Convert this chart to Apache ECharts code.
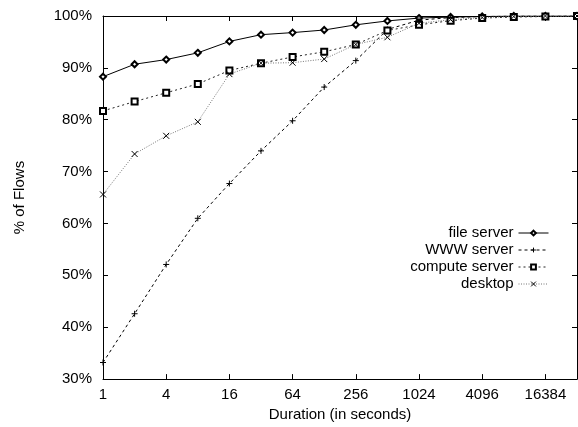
<!DOCTYPE html>
<html>
<head>
<meta charset="utf-8">
<script src="https://cdn.jsdelivr.net/npm/echarts@6/dist/echarts.min.js"></script>
<style>html,body{margin:0;padding:0;background:#fff}#c{width:578px;height:427px}</style>
</head>
<body>
<div id="c"></div>
<script>
var durations = ['1','2','4','8','16','32','64','128','256','512','1024','2048','4096','8192','16384','32768'];
var fileServer    = [88.3, 90.7, 91.6, 92.9, 95.1, 96.4, 96.8, 97.3, 98.3, 99.05, 99.6, 99.8, 99.9, 100, 100, 100];
var wwwServer     = [33.2, 42.6, 52.1, 61.0, 67.7, 74.0, 79.8, 86.3, 91.4, 97.4, 99.2, 99.7, 99.9, 100, 100, 100];
var computeServer = [81.7, 83.5, 85.2, 86.9, 89.5, 90.9, 92.1, 93.1, 94.5, 97.2, 98.3, 99.1, 99.6, 99.8, 99.9, 100];
var desktop       = [65.6, 73.4, 76.9, 79.6, 88.8, 90.9, 91.0, 91.7, 94.5, 95.9, 98.6, 99.3, 99.7, 99.9, 100, 100];
var seriesNames = ['file server', 'WWW server', 'compute server', 'desktop'];

var FONT = '"Liberation Sans", Arial, Helvetica, sans-serif';
var chart = echarts.init(document.getElementById('c'), null, {renderer: 'canvas'});
var plusPath = 'path://M0,5L10,5M5,0L5,10';
var crossPath = 'path://M0,0L10,10M10,0L0,10';

function mk(name, data, color, lineType, symbol, size, symStyle) {
  return {
    name: name, type: 'line', data: data,
    xAxisIndex: 0, yAxisIndex: 0,
    symbol: symbol, symbolSize: size,
    showSymbol: true,
    lineStyle: {color: color, width: 1, type: lineType},
    itemStyle: symStyle,
    emphasis: {disabled: true},
    animation: false
  };
}

var option = {
  animation: false,
  grid: {left: 103, right: 1, top: 16, bottom: 41, containLabel: false},
  legend: {
    orient: 'vertical', right: 24, top: 220, align: 'right',
    itemWidth: 30, itemHeight: 6, itemGap: 1,
    lineStyle: {width: 1},
    itemStyle: {borderWidth: 1},
    textStyle: {fontFamily: FONT, fontSize: 15, color: '#000', lineHeight: 16},
    data: seriesNames
  },
  xAxis: [{
    type: 'category', data: durations, boundaryGap: false, position: 'bottom',
    name: 'Duration (in seconds)', nameLocation: 'middle', nameGap: 24,
    nameTextStyle: {fontFamily: FONT, fontSize: 15, color: '#000'},
    axisLine: {lineStyle: {color: '#000', width: 1}},
    axisTick: {inside: true, length: 5, interval: 1, lineStyle: {color: '#000'}},
    axisLabel: {interval: 1, fontFamily: FONT, fontSize: 15, color: '#000', margin: 8},
    splitLine: {show: false}
  }, {
    type: 'category', data: durations, boundaryGap: false, position: 'top',
    axisLine: {lineStyle: {color: '#000', width: 1}},
    axisTick: {inside: true, length: 5, interval: 1, lineStyle: {color: '#000'}},
    axisLabel: {show: false},
    splitLine: {show: false}
  }],
  yAxis: [{
    type: 'value', min: 30, max: 100, interval: 10, position: 'left',
    name: '% of Flows', nameLocation: 'middle', nameGap: 76, nameRotate: 90,
    nameTextStyle: {fontFamily: FONT, fontSize: 15, color: '#000'},
    axisLine: {show: true, lineStyle: {color: '#000', width: 1}},
    axisTick: {show: true, inside: true, length: 5, lineStyle: {color: '#000'}},
    axisLabel: {formatter: '{value}%', fontFamily: FONT, fontSize: 15, color: '#000', margin: 11},
    splitLine: {show: false}
  }, {
    type: 'value', min: 30, max: 100, interval: 10, position: 'right',
    axisLine: {show: true, lineStyle: {color: '#000', width: 1}},
    axisTick: {show: true, inside: true, length: 5, lineStyle: {color: '#000'}},
    axisLabel: {show: false},
    splitLine: {show: false}
  }],
  series: [
    mk(seriesNames[0], fileServer, '#000', 'solid', 'emptyDiamond', 6, {color: '#000', borderColor: '#000', borderWidth: 1}),
    mk(seriesNames[1], wwwServer, '#000', [3, 3], plusPath, 6, {color: '#000', borderColor: '#000', borderWidth: 1}),
    mk(seriesNames[2], computeServer, '#222', [2, 3], 'emptyRect', 6, {color: '#000', borderColor: '#000', borderWidth: 1}),
    mk(seriesNames[3], desktop, '#777', [1, 1.5], crossPath, 6, {color: '#000', borderColor: '#000', borderWidth: 1})
  ]
};
chart.setOption(option);
</script>
</body>
</html>
